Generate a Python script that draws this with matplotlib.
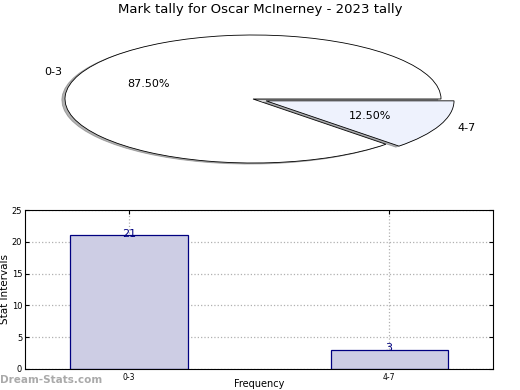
import numpy as np
import matplotlib
matplotlib.use('Agg')
import matplotlib.pyplot as plt

# data
categories = ['0-3', '4-7']
counts = [21, 3]
title = 'Mark tally for Oscar McInerney - 2023 tally'

fig = plt.figure(figsize=(5.2, 3.9), dpi=100)

# pie (squashed into an ellipse)
ax_pie = fig.add_axes([18 / 520, 1 - 179 / 390, 470 / 520, 160 / 390])
ax_pie.pie(counts, labels=categories, autopct='%.2f%%', explode=[0, 0.075],
           colors=['white', '#eef2fd'],
           shadow={'ox': -0.012, 'oy': -0.012, 'shade': 0.6}, startangle=0,
           wedgeprops={'edgecolor': 'black', 'linewidth': 0.6},
           textprops={'fontsize': 8})
ax_pie.set_aspect('auto')
ax_pie.set_xlim(-1.25, 1.25)
ax_pie.set_ylim(-1.25, 1.25)
fig.text(0.5, 1 - 10 / 390, title, ha='center', va='center', fontsize=9.5)

# bar chart
ax = fig.add_axes([25 / 520, 1 - 369 / 390, 468 / 520, 159 / 390])
x = np.arange(len(categories))
ax.bar(x, counts, width=0.45, color='#cdcde4', edgecolor='#000080', linewidth=0.9, zorder=2)
for xi, c in zip(x, counts):
    ax.text(xi, c + 0.3, str(c), ha='center', va='center', fontsize=8, color='#000080', zorder=3)
ax.set_xlim(-0.4, 1.4)
ax.set_ylim(0, 25)
ax.set_yticks([0, 5, 10, 15, 20, 25])
ax.set_xticks(x)
ax.set_xticklabels(categories, fontsize=5.5)
ax.tick_params(axis='y', labelsize=6, direction='in', right=True, length=3, pad=2)
ax.tick_params(axis='x', direction='in', top=True, length=3, pad=3)
ax.grid(True, linestyle=':', color='#b0b0b0', linewidth=0.9, zorder=0)
ax.set_ylabel('Stat Intervals', fontsize=7.5, labelpad=1)
ax.set_xlabel('Frequency', fontsize=7, va='center')
ax.xaxis.set_label_coords(0.5, -15 / 159)

fig.text(0, 1 - 380 / 390, 'Dream-Stats.com', fontsize=7.5, color='#aaaaaa',
         fontweight='bold', ha='left', va='center')

fig.savefig('out.png', dpi=100)
